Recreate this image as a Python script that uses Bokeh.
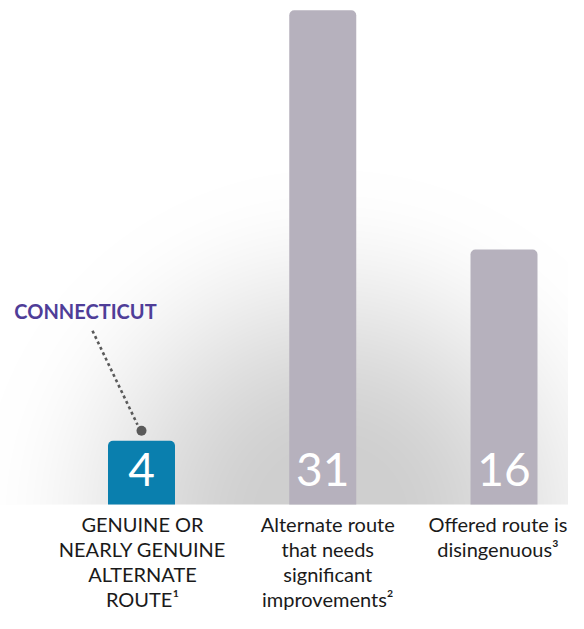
import numpy as np
from bokeh.plotting import figure
from bokeh.models import Range1d
from bokeh.core.properties import value
from bokeh.embed import file_html
from bokeh.resources import INLINE

# ---- data ----
categories = [
    "GENUINE OR\nNEARLY GENUINE\nALTERNATE\nROUTE\u00b9",
    "Alternate route\nthat needs\nsignificant\nimprovements\u00b2",
    "Offered route is\ndisingenuous\u00b3",
]
values = [4, 31, 16]
bar_colors = ["#0a7fae", "#b6b1bd", "#b6b1bd"]
highlight_label = "CONNECTICUT"
highlight_index = 0

# ---- layout constants (pixels) ----
W, H = 568, 613
PX_X = 181.25      # pixels per category step
PX_Y = 15.94       # pixels per unit
X0 = 141           # pixel x of first category centre
BASE = 504         # pixel y of baseline (from top)

idx = list(range(len(values)))

p = figure(width=W, height=H, output_backend="svg", toolbar_location=None,
           x_range=Range1d(-X0 / PX_X, (W - X0) / PX_X),
           y_range=Range1d(-(H - BASE) / PX_Y, BASE / PX_Y),
           x_axis_type=None, y_axis_type=None, min_border=0,
           outline_line_color=None, background_fill_color="white",
           border_fill_color="white")
p.grid.visible = False

# ---- radial grey background above the baseline ----
cx, cy, R = 330.0, 520.0, 350.0
xs = np.arange(W) + 0.5
ys = BASE - (np.arange(BASE) + 0.5)          # row 0 = bottom
XX, YY = np.meshgrid(xs, ys)
t = np.sqrt((XX - cx) ** 2 + (YY - cy) ** 2) / R
s = np.clip((t - 0.15) / 0.85, 0, 1)
sm = s * s * (3 - 2 * s)
g = (255 - 48 * (1 - sm)).astype(np.uint32)
img = (255 << 24) | (g << 16) | (g << 8) | g
p.image_rgba(image=[img.astype(np.uint32)], x=-X0 / PX_X, y=0,
             dw=W / PX_X, dh=BASE / PX_Y)

# ---- bars ----
p.vbar(x=idx, top=values, bottom=0, width=67 / PX_X, fill_color=bar_colors,
       line_color=None, border_radius=(5, 5, 0, 0))

# ---- value labels inside bars ----
p.text(x=idx, y=[0] * len(values), text=[str(v) for v in values],
       text_align="center", text_baseline="alphabetic", y_offset=-35,
       text_font=value("Lato"), text_font_size="46px", text_color="white")

# ---- category labels ----
p.text(x=idx, y=[0] * len(values), text=categories,
       text_align="center", text_baseline="top", y_offset=7.5,
       x_offset=[1, 5, -6],
       text_font=value("Lato"), text_font_size="20px",
       text_line_height=1.042, text_color="#1a1a1a")

# ---- highlight annotation ----
hx = idx[highlight_index]
hy = values[highlight_index]
dot_y = hy + 10 / PX_Y
p.segment(x0=[hx - 49 / PX_X], y0=[hy + 110 / PX_Y],
          x1=[hx - 4 / PX_X], y1=[hy + 16 / PX_Y],
          line_color="#5a5a5a", line_width=2.6, line_dash="3 3")
p.scatter(x=[hx], y=[dot_y], size=10, marker="circle",
          fill_color="#5a5a5a", line_color=None)
p.text(x=[hx - 56 / PX_X], y=[hy + 130 / PX_Y], text=[highlight_label],
       text_align="center", text_baseline="alphabetic",
       text_font=value("Lato"), text_font_size="20px", text_font_style="bold",
       text_color="#4f3d98")

open("out.html", "w").write(file_html(p, INLINE))
